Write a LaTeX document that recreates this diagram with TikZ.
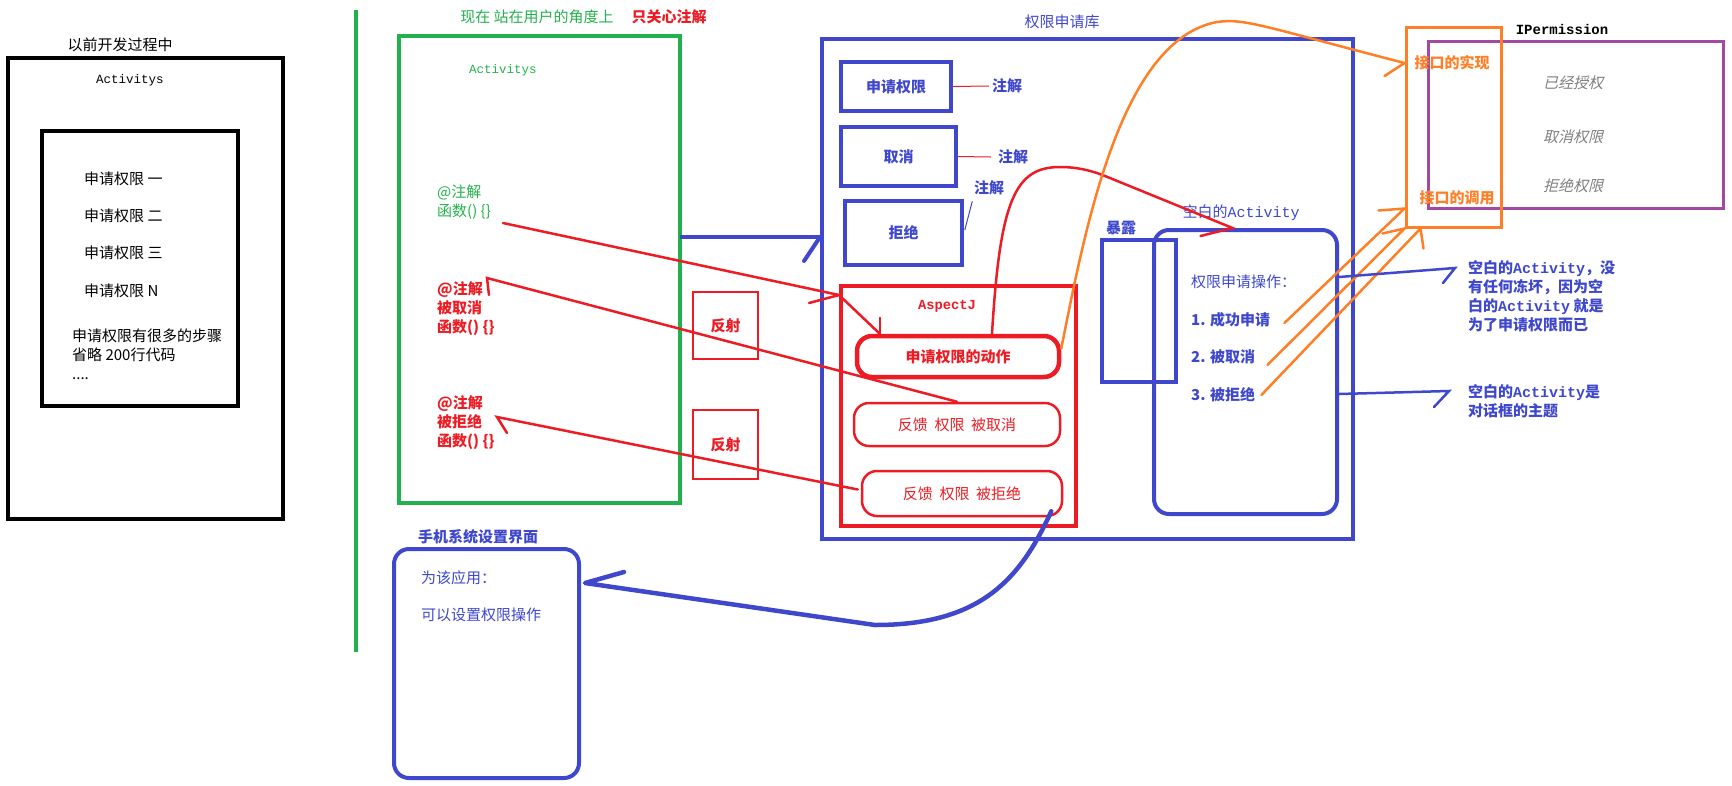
\documentclass[tikz,border=0pt]{standalone}
\usepackage{fontspec}
\setmainfont{Noto Sans CJK SC}
\setmonofont{Liberation Mono}
\newfontfamily\slantcjk[FakeSlant=0.25]{Noto Sans CJK SC}
\usepackage{tikz}
\usetikzlibrary{calc, positioning, fit}

\definecolor{pgreen}{RGB}{34,177,76}
\definecolor{pred}{RGB}{237,28,36}
\definecolor{pblue}{RGB}{63,72,204}
\definecolor{porange}{RGB}{255,127,39}
\definecolor{ppurple}{RGB}{163,73,164}
\definecolor{pgray}{RGB}{127,127,127}

\begin{document}
\begin{tikzpicture}[x=1pt, y=-1pt,
  every node/.style={inner sep=0pt, font=\fontsize{15}{19}\selectfont},
  box/.style={draw, line width=4pt, inner sep=0pt},
  pill/.style={box, rounded corners=15pt},
  txt/.style={anchor=west, align=left},
  bold/.style={font=\fontsize{15}{19}\selectfont\bfseries},
  code/.style={font=\fontsize{12.5}{15}\selectfont\ttfamily},
  hand/.style={line width=2.5pt, line cap=round}]
  \useasboundingbox (0,0) rectangle (1732,785);

  \node at (120,45) {以前开发过程中};
  \node[box, fit={(8,58) (283,519)}] (old) {};
  \node[code] at (130,80) {Activitys};
  \node[box, fit={(42,131) (238,406)}] (oldin) {};
  \node[txt] at (84,179) {申请权限 一};
  \node[txt] at (84,216) {申请权限 二};
  \node[txt] at (84,253) {申请权限 三};
  \node[txt] at (84,291) {申请权限 N};
  \node[txt] at (72,354) {申请权限有很多的步骤\\省略 200行代码\\....};

  \draw[pgreen, line width=4pt] (356,10) -- (356,652);

  \node[text=pgreen] at (537,17) {现在 站在用户的角度上};
  \node[bold, text=pred] at (669,17) {只关心注解};
  \node[box, draw=pgreen, fit={(399,36) (680,503)}] (now) {};
  \node[code, text=pgreen] at (503,70) {Activitys};
  \node[txt, text=pgreen] (anno1) at (437,202) {@注解\\函数() \{\}};
  \node[txt, bold, text=pred] (anno2) at (437,309) {@注解\\被取消\\函数() \{\}};
  \node[txt, bold, text=pred] (anno3) at (437,423) {@注解\\被拒绝\\函数() \{\}};

  \node[box, draw=pred, line width=2.5pt, fit={(693,292) (758,359)}, label={[bold, text=pred]center:反射}] (refl1) {};
  \node[box, draw=pred, line width=2.5pt, fit={(693,410) (758,479)}, label={[bold, text=pred]center:反射}] (refl2) {};

  \node[text=pblue] at (1062,22) {权限申请库};
  \node[box, draw=pblue, fit={(822,39) (1353,539)}] (lib) {};
  \node[box, draw=pblue, fit={(841,62) (951,111)}, label={[bold, text=pblue]center:申请权限}] (breq) {};
  \node[box, draw=pblue, fit={(841,127) (956,186)}, label={[bold, text=pblue]center:取消}] (bcancel) {};
  \node[box, draw=pblue, fit={(845,201) (962,265)}, label={[bold, text=pblue]center:拒绝}] (bdeny) {};
  \node[bold, text=pblue] (n1) at (1007,86) {注解};
  \node[bold, text=pblue] (n2) at (1013,157) {注解};
  \node[bold, text=pblue] (n3) at (989,188) {注解};
  \draw[pred, line width=1pt] (breq.east) -- ([xshift=-3pt]n1.west);
  \draw[pred, line width=1pt] (bcancel.east) -- ([xshift=-7pt]n2.west);
  \draw[pblue, line width=1pt, shorten <=3pt, shorten >=6pt] (bdeny.east) -- (n3.south west);

  \node[box, draw=pred, fit={(841,286) (1076,526)}] (aspect) {};
  \node[font=\fontsize{13.8}{15}\selectfont\ttfamily\bfseries, text=pred] at (947,306) {AspectJ};
  \node[pill, draw=pred, line width=4.5pt, fit={(857,336) (1059,377)}, label={[bold, text=pred]center:申请权限的动作}] (act) {};
  \node[pill, draw=pred, line width=2.5pt, fit={(854,403) (1060,446)}, label={[text=pred]center:反馈~~权限~~被取消}] (fbcancel) {};
  \node[pill, draw=pred, line width=2.5pt, fit={(862,471) (1062,516)}, label={[text=pred]center:反馈~~权限~~被拒绝}] (fbdeny) {};

  \node[bold, text=pblue] at (1121,228) {暴露};
  \node[box, draw=pblue, fit={(1102,240) (1176,382)}] (expose) {};
  \node[text=pblue] at (1241,213) {空白的{\ttfamily Activity}};
  \node[pill, draw=pblue, fit={(1154,230) (1337,514)}] (blank) {};
  \node[txt, text=pblue] at (1191,282) {权限申请操作：};
  \node[txt, bold, text=pblue] (ok) at (1191,320) {1. 成功申请};
  \node[txt, bold, text=pblue] (cn) at (1191,357) {2. 被取消};
  \node[txt, bold, text=pblue] (dn) at (1191,395) {3. 被拒绝};

  \node[box, draw=ppurple, line width=3pt, fit={(1428,41) (1723,208)}] (iperm) {};
  \node[box, draw=porange, line width=3pt, fit={(1406,27) (1501,227)}] (iface) {};
  \node[font=\fontsize{14}{15}\selectfont\ttfamily\bfseries] at (1562,29) {IPermission};
  \node[bold, text=porange] (impl) at (1452,63) {接口的实现};
  \node[bold, text=porange] (call) at (1457,198) {接口的调用};
  \node[text=pgray, font=\fontsize{15}{19}\selectfont\slantcjk] at (1573,83) {已经授权};
  \node[text=pgray, font=\fontsize{15}{19}\selectfont\slantcjk] at (1573,137) {取消权限};
  \node[text=pgray, font=\fontsize{15}{19}\selectfont\slantcjk] at (1573,186) {拒绝权限};

  \node[txt, bold, text=pblue] (note1) at (1468,296.5) {空白的{\ttfamily Activity}，没\\有任何冻坏，因为空\\白的{\ttfamily Activity} 就是\\为了申请权限而已};
  \node[txt, bold, text=pblue] (note2) at (1468,401.5) {空白的{\ttfamily Activity}是\\对话框的主题};

  \node[bold, text=pblue] at (478,537) {手机系统设置界面};
  \node[pill, draw=pblue, fit={(394,549) (579,778)}] (phone) {};
  \node[txt, text=pblue] at (421,578) {为该应用：};
  \node[txt, text=pblue] at (421,615) {可以设置权限操作};

  \coordinate (a1) at (680,237);
  \coordinate (r1) at (503,223);
  \coordinate (r2) at (487,278);
  \coordinate (r3) at (497,417);
  \coordinate (b1) at (1455,268);
  \coordinate (b2) at (1449,391);

  \draw[pblue, line width=4pt] (a1) -- (a1 -| lib.west);
  \draw[pblue, line width=4pt, line cap=round] (a1 -| lib.west) -- ++(-16,24);

  \draw[pred, hand] (r1) -- ([yshift=-11pt]aspect.north west) -- ([xshift=25pt]act.north west);
  \draw[pred, hand] ([yshift=-11pt]aspect.north west) -- ++(-30,8);
  \draw[pred, hand] ([xshift=25pt]act.north west) -- ++(0,-16);
  \draw[pred, hand] (fbcancel.north) -- (r2) -- ++(2,17);
  \draw[pred, hand] ([xshift=-3pt,yshift=4pt]fbdeny.west) -- (r3) -- ++(10,16);

  \draw[pred, hand] ([xshift=34pt]act.north) .. controls (1000,200) and (1015,167) .. (1060,167)
    .. controls (1080,167) and (1095,172) .. (1105,176) -- ([xshift=-13pt]blank.north) -- ++(-32,8);

  \draw[porange, hand] ([yshift=8pt]act.east) .. controls (1085,230) and (1120,40) .. (1217,22)
    .. controls (1245,18) and (1265,27) .. (iface.west |- impl) -- ++(-20,13);

  \draw[porange, hand] ([xshift=14pt,yshift=-3pt]ok.east) -- ([yshift=20pt]iface.south west) -- ++(-26,2);
  \draw[porange, hand] ([xshift=12pt,yshift=-8pt]cn.east) -- (iface.south west) -- ++(-22,5);
  \draw[porange, hand] ([xshift=6pt]dn.east) -- ([xshift=16pt]iface.south west) -- ++(3,20);

  \draw[pblue, hand] ([yshift=95pt]blank.east) -- (b1) -- ++(-12,15);
  \draw[pblue, hand] ([yshift=-22pt]blank.east) -- (b2) -- ++(-15,16);

  \draw[pblue, line width=4.5pt, line cap=round, line join=round] ([xshift=-12pt,yshift=6pt]fbdeny.south east)
    .. controls (1020,580) and (980,625) .. (875,625) -- ([xshift=4pt,yshift=-36pt]phone.north east) -- ++(39,-11);
\end{tikzpicture}
\end{document}
